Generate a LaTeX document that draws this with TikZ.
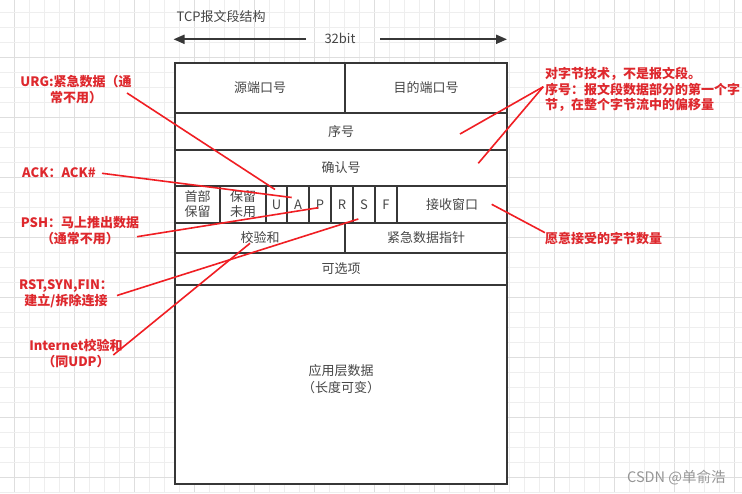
\documentclass[tikz,border=0pt]{standalone}
\usepackage{fontspec}
\setmainfont{Noto Sans CJK SC}
\usetikzlibrary{arrows.meta}
\definecolor{gridminor}{RGB}{238,238,238}
\definecolor{gridmajor}{RGB}{222,222,222}
\definecolor{boxline}{RGB}{55,55,55}
\definecolor{boxtext}{RGB}{70,70,70}
\definecolor{labred}{RGB}{222,40,45}
\definecolor{linered}{RGB}{240,30,35}
\definecolor{wmark}{RGB}{150,150,150}
\tikzset{
  cell/.style={draw=boxline, line width=2pt, fill=white, inner sep=0pt, text=boxtext,
    font=\fontsize{13}{15}\selectfont, align=center},
  lab/.style={text=labred, font=\fontsize{13}{16}\selectfont\bfseries, inner sep=0pt},
  redline/.style={draw=linered, line width=1.6pt},
  dimarrow/.style={draw=boxline, line width=2pt, -{Triangle[length=11pt,width=9pt]}},
}
\begin{document}
\begin{tikzpicture}[x=1pt,y=-1pt]
\useasboundingbox (0,0) rectangle (742,493);
\fill[white] (0,0) rectangle (742,493);
% grid
\foreach \i in {0,...,49} {
  \pgfmathsetmacro{\xx}{14.7+15*\i}
  \pgfmathtruncatemacro{\m}{mod(\i,4)}
  \ifnum\m=0
    \draw[gridmajor, line width=1pt] (\xx,0) -- (\xx,493);
  \else
    \draw[gridminor, line width=1pt] (\xx,0) -- (\xx,493);
  \fi
}
\foreach \i in {0,...,32} {
  \pgfmathsetmacro{\yy}{12.3+15*\i}
  \pgfmathtruncatemacro{\m}{mod(\i,4)}
  \ifnum\m=3
    \draw[gridmajor, line width=1pt] (0,\yy) -- (742,\yy);
  \else
    \draw[gridminor, line width=1pt] (0,\yy) -- (742,\yy);
  \fi
}
% title and width arrow
\node[anchor=west, text=boxtext, font=\fontsize{13}{15}\selectfont, inner sep=0pt] (title) at (176.5,17) {TCP报文段结构};
\node[text=boxtext, font=\fontsize{13}{15}\selectfont, inner sep=0pt] (bits) at (340,38.5) {32bit};
\coordinate (la) at (306,39.3);
\coordinate (lb) at (173.5,39.3);
\coordinate (ra) at (380,39.3);
\coordinate (rb) at (507,39.3);
\draw[dimarrow] (la) -- (lb);
\draw[dimarrow] (ra) -- (rb);
% header cells
\node[cell, minimum width=170, minimum height=50] (src) at (260,88) {源端口号};
\node[cell, minimum width=162, minimum height=50] (dst) at (426,88) {目的端口号};
\node[cell, minimum width=332, minimum height=37] (seq) at (341,131.5) {序号};
\node[cell, minimum width=332, minimum height=36] (ackn) at (341,168) {确认号};
\node[cell, minimum width=45, minimum height=37] (hdr) at (197.5,204.5) {首部\\保留};
\node[cell, minimum width=46, minimum height=37] (rsv) at (243,204.5) {保留\\未用};
\node[cell, minimum width=21, minimum height=37] (fu) at (276.5,204.5) {U};
\node[cell, minimum width=22, minimum height=37] (fa) at (298,204.5) {A};
\node[cell, minimum width=22, minimum height=37] (fp) at (320,204.5) {P};
\node[cell, minimum width=22, minimum height=37] (fr) at (342,204.5) {R};
\node[cell, minimum width=22, minimum height=37] (fs) at (364,204.5) {S};
\node[cell, minimum width=22, minimum height=37] (ff) at (386,204.5) {F};
\node[cell, minimum width=110, minimum height=37] (win) at (452,204.5) {接收窗口};
\node[cell, minimum width=170, minimum height=30] (chk) at (260,238) {校验和};
\node[cell, minimum width=162, minimum height=30] (urgp) at (426,238) {紧急数据指针};
\node[cell, minimum width=332, minimum height=32] (opt) at (341,269) {可选项};
\node[cell, minimum width=332, minimum height=199] (data) at (341,384.5) {};
\node[text=boxtext, font=\fontsize{13}{16.5}\selectfont, align=center, inner sep=0pt] (datatext) at (341,379) {应用层数据\\（长度可变）};
% labels
\node[lab, align=center] (urg) at (76,89.5) {URG:紧急数据（通\\常不用）};
\node[lab] (ack) at (59,172.5) {ACK：ACK\#};
\node[lab, align=center] (psh) at (80,231) {PSH：马上推出数据\\（通常不用）};
\node[lab, align=center] (rst) at (66,293.5) {RST,SYN,FIN：\\建立/拆除连接};
\node[lab, align=center] (inet) at (76,354) {Internet校验和\\（同UDP）};
\node[lab, align=left, anchor=west, font=\fontsize{13}{15.5}\selectfont\bfseries] (seqnote) at (545,89.5) {对字节技术，不是报文段。\\序号：报文段数据部分的第一个字\\节，在整个字节流中的偏移量};
\node[lab, anchor=west] (winnote) at (545,238.5) {愿意接受的字节数量};
\node[text=wmark, font=\fontsize{14.5}{17}\selectfont, anchor=west, inner sep=0pt] (wm) at (627,477.5) {CSDN @单俞浩};
% connectors
\coordinate (urgS) at (127,93);   \coordinate (urgE) at (275,189.5);
\coordinate (ackS) at (102,173.3); \coordinate (ackE) at (291.7,197.5);
\coordinate (pshS) at (137,236.7); \coordinate (pshE) at (318.3,207.7);
\coordinate (rstS) at (117,295.5); \coordinate (rstE) at (358.3,219);
\coordinate (inetS) at (113.3,355); \coordinate (inetE) at (250,243.3);
\coordinate (seqS) at (543.3,86.7); \coordinate (seqE) at (460,134);
\coordinate (ackE2) at (478.3,163.3);
\coordinate (winS) at (491.7,204.3); \coordinate (winE) at (545,232.7);
\draw[redline] (urgS) -- (urgE);
\draw[redline] (ackS) -- (ackE);
\draw[redline] (pshS) -- (pshE);
\draw[redline] (rstS) -- (rstE);
\draw[redline] (inetS) -- (inetE);
\draw[redline] (seqS) -- (seqE);
\draw[redline] (seqS) -- (ackE2);
\draw[redline] (winS) -- (winE);
\end{tikzpicture}
\end{document}
